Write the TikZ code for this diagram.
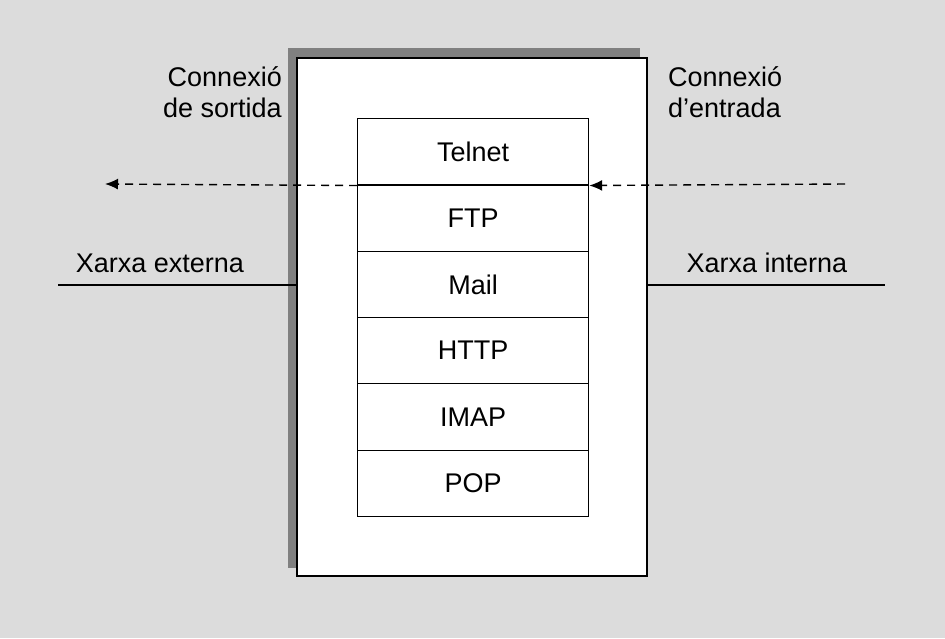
\documentclass[tikz,border=0pt]{standalone}
\usepackage{fontspec}
\setmainfont{Liberation Sans}
\usetikzlibrary{arrows.meta}
\definecolor{bg}{HTML}{DCDCDC}
\definecolor{shadow}{HTML}{808080}
\begin{document}
\begin{tikzpicture}[x=1pt,y=-1pt,
  lbl/.style={font=\fontsize{27}{31}\selectfont, inner sep=0pt},
  cell/.style={draw, line width=1.2pt, fill=white, minimum width=231pt, minimum height=66.3pt, font=\fontsize{27}{31}\selectfont, anchor=north west, inner sep=0pt},
  dasharrow/.style={dashed, dash pattern=on 8pt off 6pt, line width=1.4pt, -{Latex[length=13pt,width=11pt]}}]
\useasboundingbox[fill=bg] (0,0) rectangle (945,638);
\fill[shadow] (288,48) rectangle (640,568);
\draw[line width=1.2pt, fill=white] (297,58) rectangle (647,576);
\foreach \t [count=\i from 0] in {Telnet,FTP,Mail,HTTP,IMAP,POP}
  \node[cell] (c\i) at (357,118+66.3*\i) {\t};
\coordinate (lend) at (105,184);
\coordinate (rstart) at (845,184);
\draw[dasharrow] (c0.south west) -- (lend);
\draw[dasharrow] (rstart) -- (c0.south east);
\coordinate (l1) at (58,285); \coordinate (l2) at (297,285);
\coordinate (r1) at (648,285); \coordinate (r2) at (885,285);
\draw[line width=1.4pt] (l1) -- (l2);
\draw[line width=1.4pt] (r1) -- (r2);
\node[lbl] (xe) at (160,263) {Xarxa externa};
\node[lbl] (xi) at (767,263) {Xarxa interna};
\node[lbl, anchor=east, align=right] (cs) at (282,92) {Connexió\\de sortida};
\node[lbl, anchor=west, align=left] (ce) at (668,92) {Connexió\\d’entrada};
\end{tikzpicture}
\end{document}
